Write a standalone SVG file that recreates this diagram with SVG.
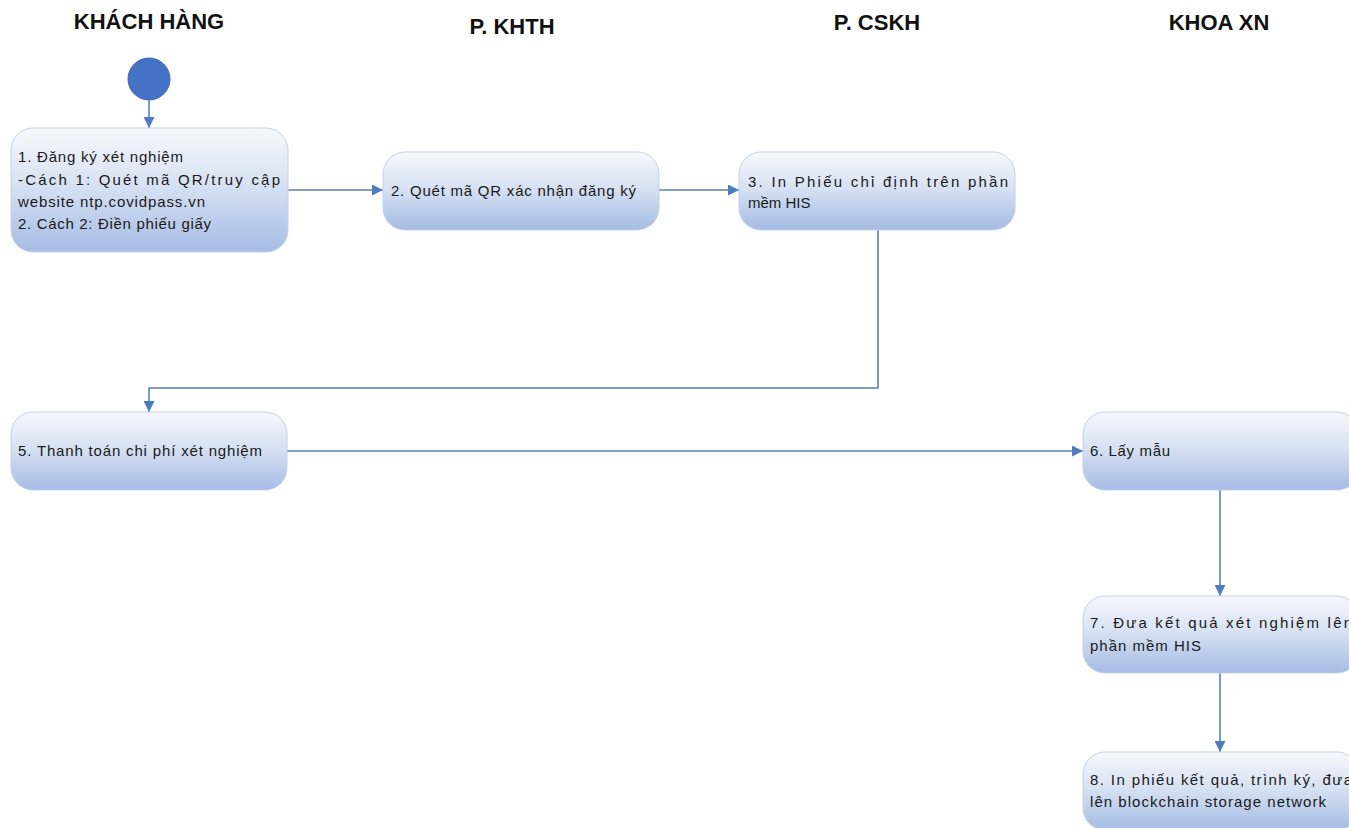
<svg xmlns="http://www.w3.org/2000/svg" width="1349" height="828" viewBox="0 0 1349 828">
<style>
.hdr{font-family:"Liberation Sans",Arial,sans-serif;font-weight:bold;font-size:22px;fill:#111;text-anchor:middle}
.t{font-family:"Liberation Sans",Arial,sans-serif;font-size:15px;fill:#1a1a1a}
.box{fill:url(#g);stroke:#c3d1e8;stroke-width:1}
.con{fill:none;stroke:#5580c0;stroke-width:1.6}
</style>
<defs>
<linearGradient id="g" x1="0" y1="0" x2="0" y2="1">
<stop offset="0" stop-color="#f6f8fc"/>
<stop offset="0.45" stop-color="#d8e2f3"/>
<stop offset="1" stop-color="#a5bce4"/>
</linearGradient>
<marker id="arr" viewBox="0 0 10 10" refX="10" refY="5" markerWidth="11" markerHeight="11" markerUnits="userSpaceOnUse" orient="auto">
<path d="M0,0 L10,5 L0,10 Z" fill="#4f7cc0"/>
</marker>
</defs>
<rect width="1349" height="828" fill="#ffffff"/>
<g id="headers">
<text class="hdr" x="149" y="29">KHÁCH HÀNG</text>
<text class="hdr" x="512" y="34">P. KHTH</text>
<text class="hdr" x="877" y="30">P. CSKH</text>
<text class="hdr" x="1219" y="30">KHOA XN</text>
</g>
<g id="connectors">
<path class="con" d="M149,100 L149,128" marker-end="url(#arr)"/>
<path class="con" d="M288,190 L383,190" marker-end="url(#arr)"/>
<path class="con" d="M659,190 L739,190" marker-end="url(#arr)"/>
<path class="con" d="M878,230 L878,388 L149,388 L149,412" marker-end="url(#arr)"/>
<path class="con" d="M287,451 L1083,451" marker-end="url(#arr)"/>
<path class="con" d="M1220,490 L1220,596" marker-end="url(#arr)"/>
<path class="con" d="M1220,673 L1220,752" marker-end="url(#arr)"/>
</g>
<g id="start">
<circle cx="149" cy="79" r="21" fill="#4472c4" stroke="#3d66b0" stroke-width="1"/>
</g>
<g id="node1">
<rect class="box" x="11" y="128" width="277" height="124" rx="22"/>
<text class="t" x="18" y="162" textLength="165" lengthAdjust="spacing">1. Đăng ký xét nghiệm</text>
<text class="t" x="18" y="185" textLength="262" lengthAdjust="spacing">-Cách 1: Quét mã QR/truy cập</text>
<text class="t" x="18" y="207" textLength="187" lengthAdjust="spacing">website ntp.covidpass.vn</text>
<text class="t" x="18" y="229" textLength="193" lengthAdjust="spacing">2. Cách 2: Điền phiếu giấy</text>
</g>
<g id="node2">
<rect class="box" x="383" y="152" width="276" height="78" rx="22"/>
<text class="t" x="391" y="196" textLength="245" lengthAdjust="spacing">2. Quét mã QR xác nhận đăng ký</text>
</g>
<g id="node3">
<rect class="box" x="739" y="152" width="276" height="78" rx="22"/>
<text class="t" x="748" y="187" textLength="260" lengthAdjust="spacing">3. In Phiếu chỉ định trên phần</text>
<text class="t" x="748" y="208">mềm HIS</text>
</g>
<g id="node5">
<rect class="box" x="11" y="412" width="276" height="78" rx="22"/>
<text class="t" x="18" y="456" textLength="244" lengthAdjust="spacing">5. Thanh toán chi phí xét nghiệm</text>
</g>
<g id="node6">
<rect class="box" x="1083" y="412" width="276" height="78" rx="22"/>
<text class="t" x="1090" y="456" textLength="80" lengthAdjust="spacing">6. Lấy mẫu</text>
</g>
<g id="node7">
<rect class="box" x="1083" y="596" width="276" height="77" rx="22"/>
<text class="t" x="1090" y="628" textLength="262" lengthAdjust="spacing">7. Đưa kết quả xét nghiệm lên</text>
<text class="t" x="1090" y="651" textLength="111" lengthAdjust="spacing">phần mềm HIS</text>
</g>
<g id="node8">
<rect class="box" x="1083" y="752" width="276" height="78" rx="22"/>
<text class="t" x="1090" y="785" textLength="262" lengthAdjust="spacing">8. In phiếu kết quả, trình ký, đưa</text>
<text class="t" x="1090" y="807" textLength="236" lengthAdjust="spacing">lên blockchain storage network</text>
</g>
</svg>
